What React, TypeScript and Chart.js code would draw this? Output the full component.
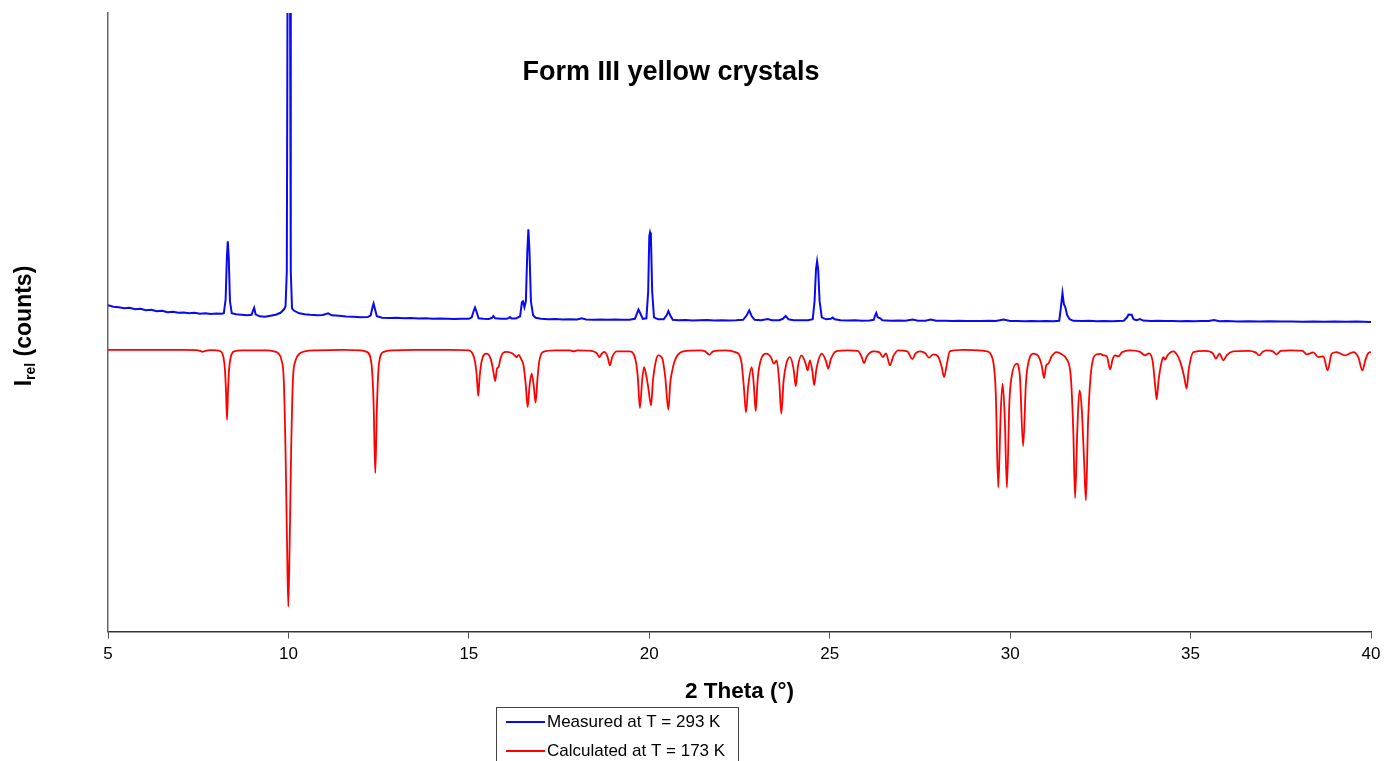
import React, { useEffect, useRef } from 'react';
import { Chart, registerables } from 'chart.js';

Chart.register(...registerables);

const chartTitle = 'Form III yellow crystals';
const xAxisTitle = '2 Theta (°)';
const yTitleMain = 'I';
const yTitleSub = 'rel';
const yTitleRest = ' (counts)';
const seriesNames = ['Measured at T = 293 K', 'Calculated at T = 173 K'];
const xTicks = [5, 10, 15, 20, 25, 30, 35, 40];

// Measured pattern: [2 theta (deg), intensity (arb. counts)]
const measured: [number, number][] = [
  [5.0, 326], [5.15, 324.5], [5.3, 324], [5.45, 323], [5.6, 323.5], [5.75, 322], [5.9, 322.5], [6.05, 321],
  [6.2, 321.5], [6.35, 320], [6.5, 320.5], [6.65, 319], [6.8, 319.5], [6.95, 318.5], [7.1, 318.8], [7.25, 318],
  [7.4, 318.5], [7.55, 317.5], [7.7, 318], [7.85, 317.2], [8.0, 317.8], [8.15, 317.5],
  [8.21, 318], [8.26, 332], [8.295, 375], [8.32, 390], [8.345, 375], [8.38, 330], [8.43, 318],
  [8.55, 317], [8.7, 316.5], [8.85, 316], [8.98, 316.5], [9.02, 321], [9.05, 323.5], [9.09, 317], [9.2, 315],
  [9.35, 314.5], [9.5, 315.5], [9.65, 316.5], [9.78, 318.5], [9.88, 322], [9.92, 325], [9.955, 360],
  [9.975, 640], [10.045, 640], [10.065, 360], [10.1, 323], [10.16, 320.5], [10.3, 318], [10.45, 317],
  [10.6, 316.5], [10.8, 316], [10.95, 316.3], [11.1, 318], [11.2, 316], [11.4, 315.5], [11.6, 314.8],
  [11.8, 314.5], [12.0, 314], [12.2, 314.2], [12.28, 316], [12.33, 324], [12.36, 327.7], [12.4, 322],
  [12.45, 315], [12.6, 313.5], [12.8, 313.3], [13.0, 313.5], [13.2, 313], [13.4, 313.3], [13.6, 312.8],
  [13.8, 313], [14.0, 312.5], [14.2, 312.7], [14.4, 312.5], [14.6, 312.3], [14.8, 312.6], [15.0, 312.5],
  [15.08, 314], [15.14, 321], [15.17, 323.7], [15.21, 320], [15.27, 313], [15.4, 312.5], [15.55, 312.2],
  [15.64, 313.5], [15.68, 315.3], [15.73, 313], [15.9, 312.5], [16.05, 312.5], [16.11, 313.5], [16.14, 314.3],
  [16.18, 312.8], [16.3, 312.8], [16.42, 315], [16.47, 329], [16.5, 330], [16.54, 324], [16.58, 330],
  [16.62, 380], [16.65, 402], [16.68, 380], [16.72, 330], [16.78, 316], [16.85, 313.5], [17.0, 312.5],
  [17.2, 312], [17.4, 312.3], [17.6, 311.8], [17.8, 312], [18.0, 311.8], [18.13, 313], [18.25, 311.8],
  [18.45, 311.6], [18.65, 311.8], [18.85, 311.5], [19.05, 311.7], [19.25, 311.5], [19.45, 311.6], [19.6, 312.5],
  [19.66, 318], [19.7, 321.7], [19.75, 318], [19.82, 312.5], [19.92, 313], [19.97, 340], [20.0, 395],
  [20.02, 398.7], [20.045, 395], [20.08, 340], [20.13, 314], [20.25, 312], [20.4, 312], [20.48, 316],
  [20.53, 320.3], [20.58, 316], [20.65, 311.5], [20.8, 311], [21.0, 311.3], [21.2, 310.8], [21.4, 311],
  [21.6, 311.2], [21.8, 310.8], [22.0, 311], [22.2, 310.7], [22.4, 311], [22.6, 311.5], [22.7, 316],
  [22.77, 321], [22.84, 315], [22.92, 311.5], [23.1, 311], [23.28, 312.3], [23.4, 311], [23.6, 311],
  [23.7, 312.5], [23.78, 315.3], [23.86, 312], [24.0, 311], [24.2, 311], [24.4, 311], [24.53, 312],
  [24.58, 330], [24.62, 362], [24.65, 370], [24.68, 362], [24.72, 330], [24.78, 314], [24.9, 312],
  [25.03, 312.5], [25.08, 313.7], [25.14, 312], [25.3, 311], [25.5, 310.7], [25.7, 311], [25.9, 310.6],
  [26.1, 310.8], [26.22, 311.5], [26.26, 316], [26.29, 318.3], [26.33, 314], [26.4, 313], [26.46, 311],
  [26.7, 310.6], [26.9, 310.8], [27.1, 310.5], [27.3, 311.7], [27.45, 310.6], [27.65, 310.6], [27.8, 311.7],
  [27.95, 310.5], [28.2, 310.6], [28.4, 310.3], [28.6, 310.5], [28.8, 310.2], [29.0, 310.4], [29.2, 310.2],
  [29.4, 310.5], [29.6, 310.2], [29.82, 311.8], [30.0, 310.3], [30.2, 310.4], [30.4, 310], [30.6, 310.3],
  [30.8, 310], [31.0, 310.2], [31.2, 310.1], [31.36, 310.5], [31.41, 325], [31.45, 338.3], [31.49, 327],
  [31.53, 324], [31.58, 316], [31.65, 312], [31.75, 310.5], [32.0, 310.3], [32.2, 310.5], [32.4, 310.1],
  [32.6, 310.4], [32.8, 310.1], [33.0, 310.3], [33.15, 310.5], [33.24, 314], [33.28, 316.7], [33.37, 316.5],
  [33.42, 312], [33.5, 311], [33.6, 312.3], [33.68, 310.7], [33.9, 310.3], [34.1, 310.5], [34.3, 310.2],
  [34.5, 310.4], [34.7, 310.1], [34.9, 310.3], [35.1, 310], [35.3, 310.3], [35.5, 310.2], [35.65, 311.2],
  [35.8, 310], [36.0, 310.2], [36.3, 309.9], [36.6, 310.1], [36.9, 309.8], [37.2, 310], [37.5, 309.7],
  [37.8, 309.9], [38.1, 309.6], [38.4, 309.9], [38.7, 309.5], [39.0, 309.8], [39.3, 309.5], [39.6, 309.7],
  [40.0, 309.3],
];

// Calculated pattern (plotted inverted below the measured one): [2 theta (deg), intensity (arb.)]
const calculated: [number, number][] = [
  [5.0, 281.5], [6.0, 281.5], [7.0, 281.5], [7.45, 281.3], [7.55, 280.5], [7.62, 279.5], [7.7, 280.5], [7.85, 281.2],
  [8.0, 281], [8.1, 280.3], [8.2, 274], [8.24, 262], [8.27, 240], [8.298, 211.7], [8.325, 240], [8.355, 262],
  [8.4, 274], [8.5, 280], [8.7, 281],
  [9.4, 281], [9.6, 280], [9.72, 278], [9.81, 271], [9.87, 252], [9.92, 180], [9.965, 80], [9.997, 25],
  [10.03, 80], [10.075, 180], [10.125, 252], [10.2, 271], [10.3, 277.5], [10.45, 280], [10.8, 281],
  [11.5, 281.5], [12.0, 281],
  [12.17, 279.5], [12.3, 268], [12.36, 228], [12.407, 158.3], [12.455, 228], [12.51, 268], [12.64, 279.5],
  [12.9, 281], [13.5, 281.5], [14.5, 281.5], [15.0, 281],
  [15.08, 279], [15.17, 270], [15.22, 255], [15.26, 235.3], [15.3, 255], [15.36, 271], [15.49, 277.7],
  [15.6, 273], [15.67, 262], [15.73, 250.3], [15.78, 263], [15.826, 264.3], [15.87, 272], [15.95, 278.5],
  [16.05, 279.5], [16.2, 278], [16.28, 275.5], [16.32, 274.3], [16.38, 276.5], [16.44, 273],
  [16.52, 265], [16.58, 245], [16.63, 224.3], [16.68, 245], [16.74, 257.7],
  [16.8, 245], [16.85, 228.7], [16.9, 252], [16.95, 270], [17.06, 279.5], [17.4, 281], [17.8, 281],
  [17.91, 280], [18.0, 281], [18.4, 280.5],
  [18.55, 278], [18.615, 274.3], [18.68, 277.5], [18.75, 279.5], [18.84, 275], [18.91, 266], [18.97, 274],
  [19.1, 280], [19.45, 280],
  [19.6, 274], [19.68, 255], [19.74, 223.3], [19.8, 250], [19.855, 264.3], [19.92, 255], [19.97, 244.3],
  [20.05, 226], [20.1, 250], [20.18, 270], [20.25, 276], [20.36, 273], [20.44, 255],
  [20.53, 221.7], [20.58, 248], [20.62, 257.7], [20.7, 270], [20.8, 277], [20.94, 280], [21.4, 281],
  [21.55, 280], [21.66, 276.7], [21.77, 280], [22.1, 281], [22.4, 279],
  [22.55, 270], [22.62, 245], [22.68, 219], [22.74, 245], [22.84, 264.3],
  [22.9, 245], [22.95, 220.3], [23.0, 250], [23.08, 270], [23.25, 277.7], [23.37, 274], [23.456, 267.7],
  [23.53, 271], [23.6, 250],
  [23.66, 217.7], [23.72, 250], [23.8, 268], [23.9, 274.3], [24.0, 262], [24.06, 245.3], [24.12, 265],
  [24.22, 276], [24.33, 268], [24.39, 261], [24.45, 271], [24.52, 260], [24.57, 246.3], [24.63, 262],
  [24.78, 277.7], [24.9, 270], [24.96, 262.7], [25.03, 272], [25.19, 280.3], [25.5, 281], [25.78, 280.5],
  [25.88, 275], [25.95, 268.3], [26.03, 275], [26.21, 280], [26.38, 279], [26.47, 274.3], [26.56, 278],
  [26.67, 266], [26.76, 275], [26.9, 281], [27.15, 280], [27.29, 272.3], [27.38, 278], [27.5, 280],
  [27.65, 278], [27.75, 273.7], [27.87, 277], [28.0, 275], [28.1, 265], [28.17, 254.3], [28.24, 266],
  [28.33, 280], [28.7, 281.5], [29.1, 281], [29.35, 280], [29.5, 274],
  [29.6, 240], [29.67, 143.7], [29.74, 220], [29.79, 247.7], [29.85, 215], [29.91, 143.7], [29.98, 230],
  [30.04, 254.3], [30.18, 267.7], [30.27, 255], [30.36, 185.3], [30.44, 250], [30.52, 271], [30.64, 277.7],
  [30.8, 274], [30.88, 265], [30.94, 253.3], [31.0, 266], [31.06, 267.7], [31.15, 275], [31.29, 279.3],
  [31.43, 277], [31.55, 273], [31.68, 255],
  [31.75, 200], [31.8, 133.3], [31.86, 200], [31.92, 241], [31.98, 225], [32.05, 170], [32.1, 131],
  [32.16, 210], [32.26, 265], [32.4, 277], [32.5, 277.5], [32.58, 276], [32.68, 275], [32.77, 262],
  [32.84, 272], [32.9, 276], [33.0, 275], [33.1, 279], [33.32, 281], [33.6, 279.5], [33.74, 276],
  [33.85, 278], [33.95, 270], [34.02, 245],
  [34.06, 232], [34.11, 250], [34.2, 270], [34.25, 274.3], [34.29, 271.7], [34.36, 276], [34.52, 280],
  [34.65, 275], [34.73, 267.7], [34.82, 255], [34.89, 242.7], [34.95, 262], [35.08, 279.3], [35.4, 280.5],
  [35.62, 278], [35.7, 272.7], [35.8, 277.7], [35.91, 271], [36.0, 276], [36.18, 280], [36.6, 280.5],
  [36.8, 279], [36.9, 276], [37.0, 279.5], [37.11, 281], [37.28, 280], [37.38, 277], [37.5, 280.5],
  [37.76, 281], [38.1, 280.5], [38.22, 277], [38.4, 279], [38.54, 274.3], [38.68, 275], [38.8, 261],
  [38.91, 277.7], [39.05, 279.3], [39.28, 276], [39.51, 279.3], [39.65, 274], [39.76, 261], [39.85, 272],
  [39.925, 278.3], [40.0, 279.3],
];

const FONT = 'Arial, "Liberation Sans", sans-serif';

export default function App() {
  const ref = useRef<HTMLCanvasElement>(null);

  useEffect(() => {
    document.body.style.margin = '0';
    const canvas = ref.current;
    if (!canvas) return;

    const overlay = {
      id: 'overlay',
      afterDraw(chart: any) {
        const ctx = chart.ctx as CanvasRenderingContext2D;
        // chart title inside the plot
        ctx.save();
        ctx.fillStyle = '#000';
        ctx.font = `bold 27px ${FONT}`;
        ctx.textAlign = 'center';
        ctx.textBaseline = 'middle';
        ctx.fillText(chartTitle, 671, 73);
        ctx.restore();

        // rotated y-axis title with subscript
        ctx.save();
        ctx.fillStyle = '#000';
        ctx.translate(23, 326);
        ctx.rotate(-Math.PI / 2);
        const fMain = `bold 23px ${FONT}`;
        const fSub = `bold 14px ${FONT}`;
        ctx.font = fMain;
        const w1 = ctx.measureText(yTitleMain).width;
        const w3 = ctx.measureText(yTitleRest).width;
        ctx.font = fSub;
        const w2 = ctx.measureText(yTitleSub).width;
        let x = -(w1 + w2 + w3) / 2;
        ctx.textAlign = 'left';
        ctx.textBaseline = 'alphabetic';
        const base = 8;
        ctx.font = fMain;
        ctx.fillText(yTitleMain, x, base);
        x += w1;
        ctx.font = fSub;
        ctx.fillText(yTitleSub, x, base + 4);
        x += w2;
        ctx.font = fMain;
        ctx.fillText(yTitleRest, x, base);
        ctx.restore();

        // legend box
        ctx.save();
        ctx.strokeStyle = '#444';
        ctx.lineWidth = 1;
        ctx.strokeRect(496.5, 707.5, 242, 60);
        chart.data.datasets.forEach((ds: any, i: number) => {
          const y = 722 + i * 29;
          ctx.strokeStyle = ds.borderColor;
          ctx.lineWidth = 2;
          ctx.beginPath();
          ctx.moveTo(506, y);
          ctx.lineTo(545, y);
          ctx.stroke();
          ctx.fillStyle = '#000';
          ctx.font = `17px ${FONT}`;
          ctx.textAlign = 'left';
          ctx.textBaseline = 'middle';
          ctx.fillText(ds.label, 547, y);
        });
        ctx.restore();
      },
    };

    const chart = new Chart(canvas, {
      type: 'line',
      data: {
        datasets: [
          {
            label: seriesNames[0],
            data: measured.map(([x, y]) => ({ x, y })),
            borderColor: '#0a0af0',
            borderWidth: 2,
            pointRadius: 0,
            tension: 0,
            fill: false,
          },
          {
            label: seriesNames[1],
            data: calculated.map(([x, y]) => ({ x, y })),
            borderColor: '#ff0000',
            borderWidth: 1.8,
            pointRadius: 0,
            cubicInterpolationMode: 'monotone',
            fill: false,
          },
        ],
      },
      options: {
        animation: false,
        responsive: false,
        maintainAspectRatio: false,
        layout: { padding: { left: 108, right: 16, top: 13, bottom: 56 } },
        plugins: {
          legend: { display: false },
          tooltip: { enabled: false },
          title: { display: false },
        },
        scales: {
          x: {
            type: 'linear',
            min: 5,
            max: 40,
            afterBuildTicks: (scale: any) => {
              scale.ticks = xTicks.map((value) => ({ value }));
            },
            ticks: {
              font: { family: FONT, size: 17 },
              color: '#000',
              padding: 6,
              maxRotation: 0,
            },
            grid: { drawOnChartArea: false, drawTicks: true, tickLength: 7, color: '#555' },
            border: { color: '#333', width: 1.5 },
            title: {
              display: true,
              text: xAxisTitle,
              font: { family: FONT, size: 22.5, weight: 'bold' },
              color: '#000',
              padding: { top: 7, bottom: 0 },
            },
          },
          y: {
            type: 'linear',
            min: 0,
            max: 618,
            ticks: { display: false },
            grid: { display: false, drawTicks: false },
            border: { color: '#666', width: 1.5 },
          },
        },
      },
      plugins: [overlay],
    } as any);

    return () => chart.destroy();
  }, []);

  return <canvas ref={ref} width={1387} height={761} style={{ display: 'block' }} />;
}
